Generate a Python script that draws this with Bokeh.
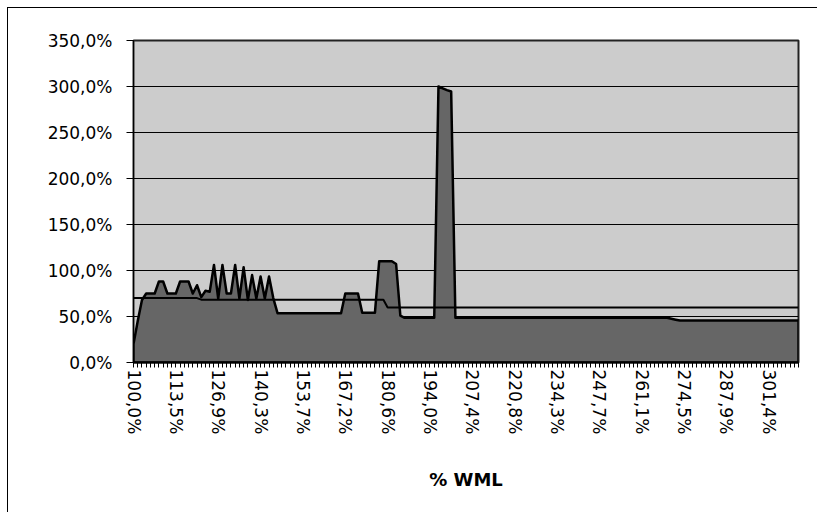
from bokeh.plotting import figure
from bokeh.models import FixedTicker, Range1d
from bokeh.embed import file_html
from bokeh.resources import INLINE

# Category axis labels (every 10th category is labelled)
x_tick_labels = ["100,0%", "113,5%", "126,9%", "140,3%", "153,7%", "167,2%", "180,6%",
                 "194,0%", "207,4%", "220,8%", "234,3%", "247,7%", "261,1%", "274,5%",
                 "287,9%", "301,4%"]
label_every = 10

y_tick_values = [0, 50, 100, 150, 200, 250, 300, 350]
y_tick_labels = ["0,0%", "50,0%", "100,0%", "150,0%", "200,0%", "250,0%", "300,0%", "350,0%"]

# Area series (percent)
area_values = [
    20, 45, 68, 75, 75, 75, 88, 88, 75, 75,
    75, 88, 88, 88, 75, 84, 71, 78, 77, 106,
    69.5, 106, 75, 75, 106, 69.5, 103.6, 68, 95, 69.5,
    93.5, 69.5, 93.5, 70, 53.6, 53.6, 53.6, 53.6, 53.6, 53.6,
    53.6, 53.6, 53.6, 53.6, 53.6, 53.6, 53.6, 53.6, 53.6, 53.6,
    75, 75, 75, 75, 54, 54, 54, 54, 110, 110,
    110, 110, 107, 51, 48.6, 48.6, 48.6, 48.6, 48.6, 48.6,
    48.6, 48.6, 300, 298, 296, 294.5, 48.6, 48.6, 48.6, 48.6,
    48.6, 48.6, 48.6, 48.6, 48.6, 48.6, 48.6, 48.6, 48.6, 48.6,
    48.6, 48.6, 48.6, 48.6, 48.6, 48.6, 48.6, 48.6, 48.6, 48.6,
    48.6, 48.6, 48.6, 48.6, 48.6, 48.6, 48.6, 48.6, 48.6, 48.6,
    48.6, 48.6, 48.6, 48.6, 48.6, 48.6, 48.6, 48.6, 48.6, 48.6,
    48.6, 48.6, 48.6, 48.6, 48.6, 48.6, 48.6, 47.5, 46.5, 45.6,
    45.6, 45.6, 45.6, 45.6, 45.6, 45.6, 45.6, 45.6, 45.6, 45.6,
    45.6, 45.6, 45.6, 45.6, 45.6, 45.6, 45.6, 45.6, 45.6, 45.6,
    45.6, 45.6, 45.6, 45.6, 45.6, 45.6, 45.6, 45.6,
]

# Line series (percent)
line_values = [
    70, 70, 70, 70, 70, 70, 70, 70, 70, 70,
    70, 70, 70, 70, 70, 70, 68.3, 68.3, 68.3, 68.3,
    68.3, 68.3, 68.3, 68.3, 68.3, 68.3, 68.3, 68.3, 68.3, 68.3,
    68.3, 68.3, 68.3, 68.3, 68.3, 68.3, 68.3, 68.3, 68.3, 68.3,
    68.3, 68.3, 68.3, 68.3, 68.3, 68.3, 68.3, 68.3, 68.3, 68.3,
    68.3, 68.3, 68.3, 68.3, 68.3, 68.3, 68.3, 68.3, 68.3, 68.3,
    59.8, 59.8, 59.8, 59.8, 59.8, 59.8, 59.8, 59.8, 59.8, 59.8,
    59.8, 59.8, 59.8, 59.8, 59.8, 59.8, 59.8, 59.8, 59.8, 59.8,
    59.8, 59.8, 59.8, 59.8, 59.8, 59.8, 59.8, 59.8, 59.8, 59.8,
    59.8, 59.8, 59.8, 59.8, 59.8, 59.8, 59.8, 59.8, 59.8, 59.8,
    59.8, 59.8, 59.8, 59.8, 59.8, 59.8, 59.8, 59.8, 59.8, 59.8,
    59.8, 59.8, 59.8, 59.8, 59.8, 59.8, 59.8, 59.8, 59.8, 59.8,
    59.8, 59.8, 59.8, 59.8, 59.8, 59.8, 59.8, 59.8, 59.8, 59.8,
    59.8, 59.8, 59.8, 59.8, 59.8, 59.8, 59.8, 59.8, 59.8, 59.8,
    59.8, 59.8, 59.8, 59.8, 59.8, 59.8, 59.8, 59.8, 59.8, 59.8,
    59.8, 59.8, 59.8, 59.8, 59.8, 59.8, 59.8, 59.8,
]

n = len(area_values)
xs = list(range(n))

FONT = "DejaVu Sans"

p = figure(width=809, height=504, output_backend="svg", toolbar_location=None,
           x_range=Range1d(0, n - 1), y_range=Range1d(0, 350),
           min_border_left=125, min_border_right=19, min_border_top=32,
           min_border_bottom=150)
p.margin = (8, 0, 0, 8)
p.styles = {"outline": "1px solid black"}

p.background_fill_color = "#CCCCCC"
p.border_fill_color = "white"
p.outline_line_color = "#222222"
p.outline_line_width = 2

# Area with outline
poly_x = [0] + xs + [n - 1]
poly_y = [0] + area_values + [0]
p.patch(poly_x, poly_y, fill_color="#666666", line_color="black",
        line_width=2.5, line_join="round")

# Line series
p.line(xs, line_values, line_color="black", line_width=2)

# Grid
p.xgrid.grid_line_color = None
p.ygrid.grid_line_color = "black"
p.ygrid.grid_line_width = 1
p.ygrid.ticker = FixedTicker(ticks=y_tick_values)

# Y axis
p.yaxis.ticker = FixedTicker(ticks=y_tick_values)
p.yaxis.major_label_overrides = {v: s for v, s in zip(y_tick_values, y_tick_labels)}
p.yaxis.major_tick_out = 7
p.yaxis.major_tick_in = 0
p.yaxis.minor_tick_line_color = None
p.yaxis.axis_line_color = "black"
p.yaxis.major_tick_line_color = "black"
p.yaxis.major_label_text_font = FONT
p.yaxis.major_label_text_font_size = "17px"
p.yaxis.major_label_text_color = "black"
p.yaxis.major_label_standoff = 14

# X axis
x_overrides = {i: "" for i in xs}
for k, lab in enumerate(x_tick_labels):
    x_overrides[k * label_every] = lab
p.xaxis.ticker = FixedTicker(ticks=xs)
p.xaxis.major_label_overrides = x_overrides
p.xaxis.major_label_orientation = "vertical"
p.xaxis.major_tick_out = 5
p.xaxis.major_tick_in = 0
p.xaxis.minor_tick_line_color = None
p.xaxis.axis_line_color = "black"
p.xaxis.axis_line_width = 2
p.xaxis.major_tick_line_color = "black"
p.xaxis.major_label_text_font = FONT
p.xaxis.major_label_text_font_size = "17px"
p.xaxis.major_label_text_color = "black"
p.xaxis.major_label_standoff = 2
p.xaxis.axis_label = "% WML"
p.xaxis.axis_label_text_font = FONT
p.xaxis.axis_label_text_font_style = "bold"
p.xaxis.axis_label_text_font_size = "18px"
p.xaxis.axis_label_text_color = "black"
p.xaxis.axis_label_standoff = 32

open("out.html", "w").write(file_html(p, INLINE))
